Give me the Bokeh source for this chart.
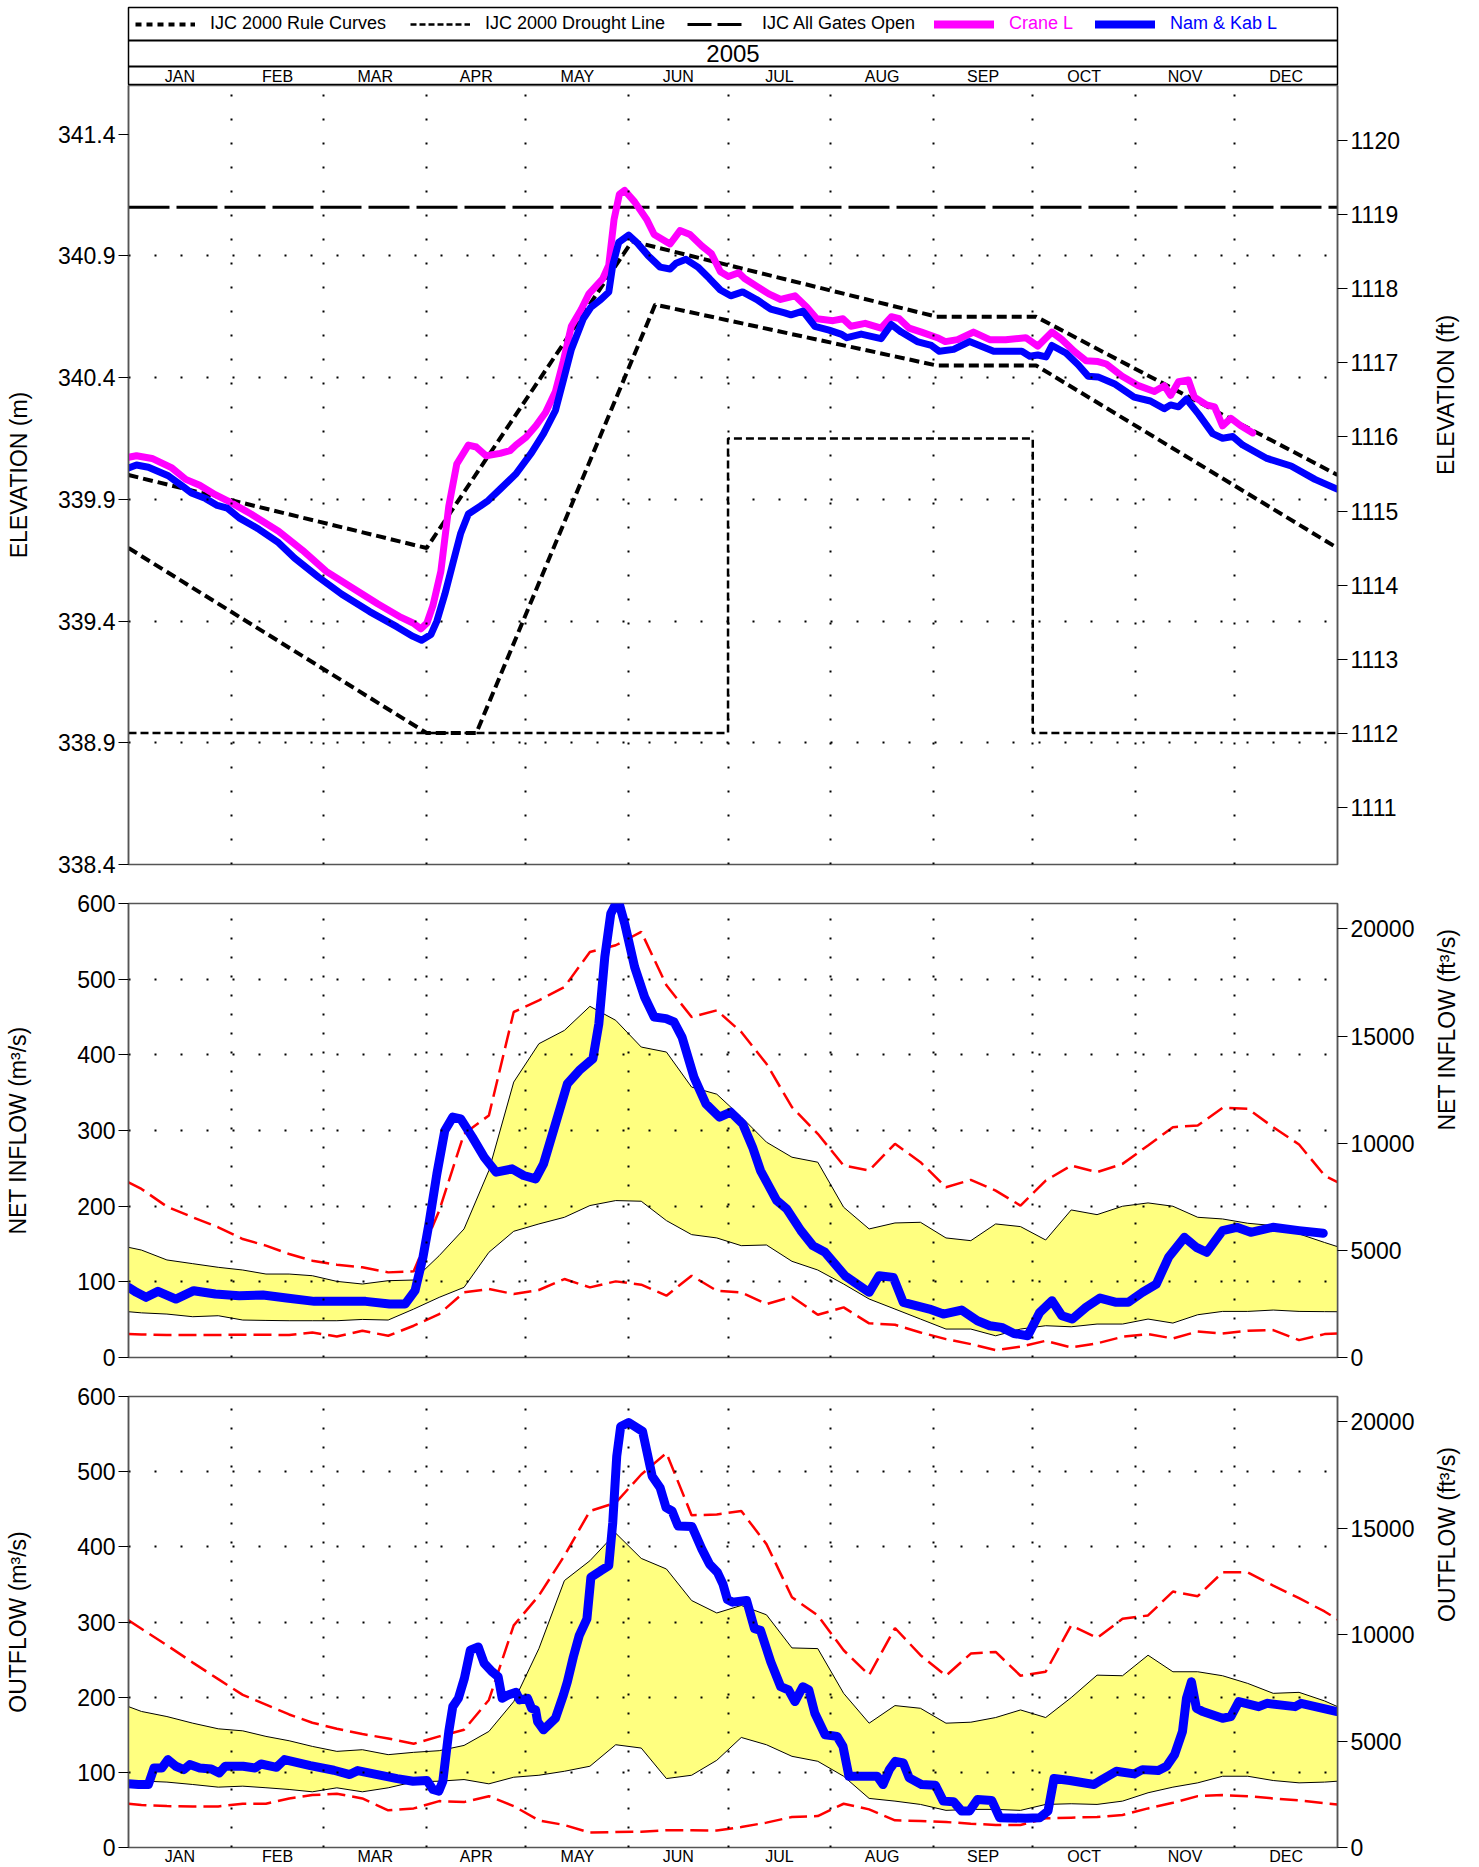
import math
from bokeh.plotting import figure
from bokeh.models import (Range1d, LinearAxis, FixedTicker, Legend, LegendItem, Span,
                          PrintfTickFormatter, BasicTickFormatter)
from bokeh.layouts import column
from bokeh.embed import file_html
from bokeh.resources import INLINE
from bokeh.core.properties import value

FONT = "Liberation Sans"
W = 1479
BL, BR = 128, 142

# ---------------- categories / axes ----------------
YEAR = "2005"
MONTHS = ["JAN", "FEB", "MAR", "APR", "MAY", "JUN", "JUL", "AUG", "SEP", "OCT", "NOV", "DEC"]
MONTH_START = [0, 31, 59, 90, 120, 151, 181, 212, 243, 273, 304, 334, 365]
MONTH_MID = [15.5, 45, 74.5, 105, 135.5, 166, 196.5, 227.5, 258, 288.5, 319, 349.5]

ELEV_TICKS_M = [338.4, 338.9, 339.4, 339.9, 340.4, 340.9, 341.4]
ELEV_GRID_M = [338.9, 339.4, 339.9, 340.4, 340.9]
ELEV_TICKS_FT = [1111, 1112, 1113, 1114, 1115, 1116, 1117, 1118, 1119, 1120]
FLOW_TICKS = [0, 100, 200, 300, 400, 500, 600]
FLOW_GRID = [100, 200, 300, 400, 500]
FLOW_TICKS_CFS = [0, 5000, 10000, 15000, 20000]

# ---------------- elevation: rule curves ----------------
GATES_DAY = [0, 365]
GATES_M = [341.10, 341.10]
RULE_UPPER_DAY = [0, 90, 152, 244, 274, 365]
RULE_UPPER_M = [340.00, 339.70, 340.96, 340.65, 340.65, 340.00]
RULE_LOWER_DAY = [0, 90, 105, 159, 244, 274, 365]
RULE_LOWER_M = [339.70, 338.94, 338.94, 340.70, 340.45, 340.45, 339.70]
DROUGHT_DAY = [0, 181, 181, 273, 273, 365]
DROUGHT_M = [338.94, 338.94, 340.15, 340.15, 338.94, 338.94]

# ---------------- elevation: observed levels ----------------
NK_DAY = [0, 2.4, 6, 12, 16.7, 19, 23.3, 26.8, 29.8, 33.4, 39.4, 45.3, 50.1, 57.3, 64.4, 72.8,
          81.1, 85.9, 88.5, 91.3, 93.1, 95.5, 97.9, 100.3, 102.6, 106.2, 108.6, 112.2, 117,
          121.7, 125.3, 128.9, 131.3, 133.7, 137.3, 139.6, 142.6, 145, 146.2, 148, 151, 153.4,
          156.9, 160.5, 163.5, 165.3, 168.3, 171.9, 175.4, 178.7, 181.8, 185.4, 189.6, 193.9,
          198.1, 200, 203.6, 207.2, 211.5, 215.1, 216.9, 221.2, 227.2, 230.3, 233.3, 238.1,
          242.4, 244.8, 249.1, 253.9, 261.2, 269.7, 272.1, 274.5, 277, 278.8, 283, 286.7,
          289.7, 292.7, 297.6, 303.6, 308.5, 312.7, 314.6, 317, 319.4, 323.1, 327.3, 330.3,
          333.4, 336.4, 343.7, 351, 358.2, 364.9]
NK_M = [340.029, 340.041, 340.032, 339.997, 339.950, 339.926, 339.903, 339.875, 339.864, 339.824,
        339.777, 339.722, 339.659, 339.581, 339.510, 339.439, 339.376, 339.337, 339.321, 339.345,
        339.400, 339.510, 339.636, 339.761, 339.840, 339.872, 339.895, 339.942, 340.005, 340.092,
        340.170, 340.265, 340.390, 340.516, 340.642, 340.689, 340.721, 340.752, 340.862, 340.956,
        340.985, 340.956, 340.901, 340.854, 340.846, 340.870, 340.886, 340.854, 340.807, 340.760,
        340.736, 340.752, 340.721, 340.681, 340.666, 340.658, 340.673, 340.611, 340.595, 340.579,
        340.564, 340.579, 340.560, 340.618, 340.587, 340.548, 340.532, 340.508, 340.516, 340.548,
        340.508, 340.508, 340.488, 340.493, 340.485, 340.532, 340.501, 340.453, 340.406, 340.403,
        340.375, 340.320, 340.304, 340.272, 340.288, 340.280, 340.312, 340.249, 340.170, 340.151,
        340.158, 340.123, 340.068, 340.037, 339.982, 339.942]

CRANE_DAY = [0, 2.4, 7.1, 13.1, 17.3, 21.5, 26.2, 29.8, 37, 45.3, 52.5, 59.7, 68, 75.2, 82.3, 85.9,
             88.3, 90.1, 91.9, 94.3, 96.7, 99.1, 102.6, 105, 108, 112.2, 115.2, 117, 120, 123,
             125.9, 128.9, 131.3, 133.7, 136.7, 139, 143.2, 145, 146.6, 148.2, 149.8, 152.8,
             156.4, 158.7, 163.5, 166.5, 169.5, 173.1, 176, 178.7, 181.1, 184.2, 186, 189.6,
             193.3, 196.9, 201.2, 204.8, 207.8, 212.7, 215.7, 218.1, 222.4, 227.2, 230.3, 232.7,
             235.7, 239.4, 244.2, 246.6, 250.3, 255.1, 260, 264.8, 270.9, 274.5, 278.8, 281.8,
             285.5, 289.1, 292.7, 295.2, 300, 304.9, 309.7, 312.7, 314.6, 317, 320, 321.8, 325.5,
             327.9, 330.3, 332.8, 335.8, 339.4]
CRANE_M = [340.073, 340.079, 340.068, 340.029, 339.982, 339.958, 339.919, 339.895, 339.840, 339.769,
           339.691, 339.604, 339.533, 339.471, 339.415, 339.392, 339.368, 339.392, 339.463, 339.604,
           339.872, 340.045, 340.123, 340.115, 340.079, 340.089, 340.100, 340.123, 340.155, 340.202,
           340.257, 340.343, 340.469, 340.611, 340.681, 340.744, 340.807, 340.862, 341.051, 341.153,
           341.169, 341.122, 341.051, 340.988, 340.949, 341.004, 340.988, 340.941, 340.909, 340.835,
           340.815, 340.831, 340.807, 340.776, 340.744, 340.721, 340.736, 340.689, 340.642, 340.634,
           340.642, 340.611, 340.623, 340.603, 340.650, 340.642, 340.603, 340.587, 340.564, 340.548,
           340.556, 340.587, 340.556, 340.556, 340.564, 340.529, 340.587, 340.556, 340.508, 340.469,
           340.466, 340.456, 340.406, 340.367, 340.343, 340.367, 340.327, 340.383, 340.390, 340.320,
           340.288, 340.280, 340.202, 340.233, 340.202, 340.173]

# ---------------- flow statistics (quarter-month) ----------------
BAND_DAY = [0, 3.9, 11.6, 19.4, 27.1, 34.5, 41.5, 48.5, 55.5, 62.9, 70.6, 78.4, 86.1, 93.8, 101.3,
            108.8, 116.3, 123.9, 131.6, 139.3, 147.1, 154.8, 162.4, 170.0, 177.6, 185.0, 192.6,
            200.3, 208.1, 215.9, 223.6, 231.4, 239.1, 246.8, 254.3, 261.8, 269.3, 276.9, 284.6,
            292.4, 300.1, 307.8, 315.3, 322.8, 330.3, 337.9, 345.6, 353.4, 361.1, 365]

IN_MAX = [231.6, 222.8, 199.4, 185.3, 172.1, 156.6, 147.8, 136.8, 128.0, 122.7, 119.2, 112.5, 113.9,
          194.1, 295.6, 319.9, 456.6, 472.0, 489.7, 536.0, 544.8, 562.5, 491.9, 450.0, 458.8, 430.1,
          388.2, 330.9, 295.6, 253.7, 247.1, 282.4, 258.1, 225.0, 234.7, 220.6, 200.8, 233.8, 253.7,
          244.9, 255.9, 280.2, 304.4, 306.6, 330.0, 328.7, 304.4, 281.5, 240.5, 231.6]
IN_MIN = [30.9, 30.5, 29.6, 29.6, 29.8, 30.1, 30.0, 29.6, 33.1, 27.8, 35.3, 28.7, 42.0, 57.4, 86.1,
          90.5, 83.9, 89.2, 103.7, 92.7, 100.6, 96.2, 81.7, 108.1, 88.3, 86.1, 70.6, 80.4, 56.5,
          66.2, 45.1, 43.3, 33.1, 24.3, 17.7, 9.8, 14.2, 22.1, 13.3, 18.6, 27.4, 30.9, 25.2, 34.4,
          31.8, 35.3, 36.2, 23.0, 30.9, 31.8]
IN_HI = [145.6, 142.0, 128.9, 124.0, 119.2, 115.6, 110.3, 110.3, 108.1, 100.6, 97.1, 101.5, 102.4,
         134.6, 169.9, 247.1, 364.0, 414.7, 432.3, 464.1, 445.6, 410.3, 403.7, 357.4, 348.0, 318.0,
         284.6, 264.7, 258.1, 198.6, 169.9, 177.8, 178.7, 158.0, 154.4, 176.5, 173.0, 155.3, 195.0,
         188.8, 199.9, 204.3, 199.9, 185.3, 183.1, 177.4, 174.3, 163.3, 152.0, 146.5]
IN_LO = [60.5, 59.0, 57.4, 53.9, 55.2, 49.5, 49.0, 48.6, 48.6, 48.6, 50.3, 49.5, 64.0, 79.5, 92.7,
         139.0, 166.8, 176.5, 185.3, 200.8, 207.4, 206.5, 180.9, 162.4, 158.0, 147.8, 148.7, 127.1,
         115.6, 97.1, 77.3, 64.0, 50.8, 37.6, 37.6, 28.7, 37.6, 42.0, 40.6, 44.2, 44.2, 50.8, 45.5,
         56.5, 60.9, 60.9, 62.7, 60.9, 60.6, 60.5]

OUT_MAX = [302.1, 291.0, 269.0, 246.0, 224.0, 203.0, 190.0, 177.0, 166.0, 158.0, 151.0, 145.0, 138.0,
           147.8, 156.6, 196.3, 295.5, 335.2, 388.1, 447.7, 458.7, 496.2, 524.9, 442.0, 443.0, 447.7,
           403.6, 333.0, 308.7, 262.4, 229.3, 292.0, 255.8, 228.5, 258.0, 260.2, 228.5, 233.8, 295.5,
           278.8, 304.3, 308.7, 340.5, 334.3, 366.1, 366.1, 348.5, 331.7, 314.0, 303.5]
OUT_MIN = [58.2, 56.5, 55.1, 54.7, 54.7, 58.2, 58.2, 65.3, 69.7, 71.4, 65.3, 49.4, 52.0, 61.7, 60.4,
           68.3, 55.1, 36.1, 29.9, 19.8, 20.7, 21.1, 22.9, 22.9, 22.5, 27.3, 33.1, 40.6, 41.9, 58.2,
           50.7, 36.1, 35.3, 33.9, 31.7, 30.0, 30.0, 38.8, 39.7, 40.6, 43.2, 52.0, 59.5, 68.3, 69.7,
           68.3, 65.3, 62.6, 59.0, 57.3]
OUT_HI = [187.4, 181.0, 174.2, 165.4, 157.9, 155.2, 147.8, 142.0, 134.5, 127.9, 130.1, 123.5, 126.6,
          128.8, 135.8, 154.4, 194.1, 264.6, 355.1, 381.5, 418.1, 384.6, 370.5, 328.6, 312.0, 322.0,
          309.6, 265.5, 264.6, 205.1, 165.4, 188.8, 185.2, 165.4, 166.7, 172.9, 183.0, 172.9, 199.4,
          229.3, 228.5, 255.8, 233.8, 233.8, 228.5, 218.3, 205.1, 206.4, 195.0, 187.4]
OUT_LO = [89.1, 88.5, 87.0, 83.8, 80.3, 81.6, 79.5, 77.2, 74.1, 79.4, 74.1, 79.4, 87.3, 88.2, 90.4,
          84.7, 93.5, 96.1, 101.4, 108.1, 136.7, 132.3, 91.7, 96.1, 116.0, 146.4, 136.7, 121.3, 114.7,
          94.8, 65.3, 61.7, 57.3, 49.4, 50.7, 50.7, 49.4, 57.3, 58.2, 57.3, 61.7, 72.8, 80.3, 86.0,
          94.8, 94.8, 89.1, 86.0, 87.0, 88.2]

# ---------------- observed flows (Namakan & Kabetogama) ----------------
NK_IN_DAY = [0, 2.4, 5.3, 8.9, 14.3, 19.7, 26.2, 33.4, 40.6, 47.7, 56.1, 64.4, 71.6, 78.8, 83.5, 86.5,
             88.9, 90.7, 93.1, 95.5, 97.9, 100.3, 103.8, 107.4, 111, 115.8, 119.3, 122.9, 125.3,
             128.9, 132.5, 136.1, 140.2, 142, 143.8, 145.6, 147.8, 149.8, 152.8, 155.8, 158.7,
             162.3, 164.7, 167.1, 170.7, 174.3, 178.4, 181.8, 185.4, 188.4, 190.8, 195.7, 198.7,
             203, 206.6, 210.3, 216.3, 223.6, 226.6, 230.9, 233.9, 241.8, 246, 251.5, 256.3, 260,
             263.6, 267.3, 271.5, 275.1, 278.8, 281.8, 284.9, 289.1, 293.3, 298.2, 301.8, 306.1,
             310.3, 314, 318.8, 322.4, 325.5, 330.3, 334.6, 338.8, 345.5, 353.4, 360.7]
NK_IN = [92.7, 86.1, 79.5, 87.4, 77.2, 88.3, 83.9, 81.7, 82.5, 78.6, 74.2, 74.2, 74.2, 70.6, 70.6, 88.3,
         132.4, 176.5, 242.7, 300.0, 317.7, 315.4, 291.2, 264.7, 244.9, 249.3, 240.5, 236.0, 255.9,
         308.8, 361.8, 379.4, 394.8, 441.2, 529.4, 586.7, 605.2, 573.5, 516.1, 476.4, 450.0, 447.8,
         443.4, 423.5, 370.6, 335.3, 317.7, 324.3, 308.8, 278.0, 247.1, 207.4, 196.4, 167.7, 147.8,
         139.0, 108.1, 86.1, 108.1, 105.9, 72.8, 64.0, 57.4, 62.7, 48.6, 42.0, 39.8, 31.8, 28.7, 59.6,
         75.1, 55.2, 50.8, 66.4, 78.6, 72.9, 72.9, 86.1, 97.1, 132.4, 158.8, 145.6, 139.0, 167.7,
         172.1, 165.5, 172.1, 167.7, 164.2]

NK_OUT_DAY = [0, 3.0, 6.0, 7.7, 10.1, 11.9, 14.3, 16.7, 18.5, 21.5, 25.0, 27.4, 29.2, 34.6, 38.2, 40.0,
              44.7, 47.1, 54.9, 62.0, 66.8, 69.2, 74.0, 81.1, 85.9, 90.1, 91.9, 93.7, 94.9, 96.7,
              97.9, 99.6, 101.4, 103.2, 105.6, 107.4, 109.8, 111.6, 112.8, 114.6, 117.0, 118.1,
              120.5, 121.7, 122.9, 123.5, 125.3, 128.9, 131.3, 132.5, 134.3, 136.1, 138.4, 139.6,
              142.6, 145.0, 146.2, 147.4, 148.6, 151.0, 155.2, 158.1, 160.5, 162.3, 164.1, 165.9,
              170.1, 173.1, 175.4, 177.8, 179.5, 180.8, 182.4, 186.6, 189.0, 190.8, 193.9, 196.9,
              199.3, 201.2, 203.6, 205.4, 207.2, 210.3, 213.9, 215.7, 217.5, 226.0, 227.8, 229.7,
              231.5, 233.9, 235.7, 239.4, 243.6, 246.0, 249.1, 251.5, 253.9, 256.3, 260.6, 263.0,
              270.9, 275.1, 277.6, 279.4, 284.2, 291.5, 293.9, 298.2, 303.6, 306.1, 310.9, 313.4,
              315.8, 318.2, 319.4, 320.9, 322.4, 324.3, 330.3, 332.8, 335.2, 341.2, 343.7, 352.2,
              354.0, 364.9]
NK_OUT = [84.7, 83.8, 83.8, 105.8, 105.8, 116.9, 108.1, 103.6, 110.3, 105.8, 104.5, 99.2, 108.1, 108.1,
          105.8, 111.1, 106.7, 116.9, 109.0, 102.8, 97.0, 102.3, 97.9, 91.7, 88.2, 89.1, 77.2, 75.0,
          88.2, 154.4, 187.4, 198.5, 225.0, 262.4, 266.8, 244.8, 233.8, 227.1, 198.5, 202.9, 206.4,
          196.3, 198.5, 185.2, 183.0, 167.6, 156.6, 172.0, 202.9, 220.5, 253.6, 282.3, 304.3, 359.5,
          368.3, 374.9, 432.3, 520.5, 560.2, 565.5, 553.6, 494.0, 478.6, 452.1, 447.7, 427.8, 427.0,
          397.0, 377.1, 366.1, 350.0, 330.0, 326.4, 328.6, 291.1, 288.9, 247.0, 213.9, 209.5, 194.1,
          213.9, 209.5, 178.6, 150.0, 147.8, 134.5, 94.8, 94.8, 83.8, 103.6, 114.7, 112.5, 92.6, 83.8,
          82.9, 61.7, 60.9, 48.5, 48.5, 63.9, 62.6, 39.7, 38.8, 39.7, 48.5, 91.7, 89.1, 83.8, 90.4,
          101.4, 97.9, 103.6, 102.3, 108.1, 123.5, 154.4, 198.5, 220.5, 185.2, 180.8, 172.0, 174.2,
          194.1, 187.4, 191.8, 187.4, 191.8, 180.8]

M_PER_FT = 0.3048
CFS_PER_CMS = 35.3147

BLUE = "#0000FF"
MAGENTA = "#FF00FF"
RED = "#FF0000"
BAND = "#FFFF80"
FRAME = "#555555"
NAN = float("nan")


def style_axis(ax, label_size="23px"):
    ax.major_tick_out = 10
    ax.major_tick_in = 0
    ax.minor_tick_out = 0
    ax.minor_tick_in = 0
    ax.major_tick_line_color = "black"
    ax.major_tick_line_width = 1
    ax.axis_line_color = FRAME
    ax.axis_line_width = 1.5
    ax.major_label_standoff = 3
    ax.major_label_text_font = FONT
    ax.major_label_text_font_size = label_size
    ax.major_label_text_color = "black"
    ax.axis_label_text_font = FONT
    ax.axis_label_text_font_size = "23px"
    ax.axis_label_text_font_style = "normal"
    ax.axis_label_text_color = "black"


def base_fig(height, yr, top, bottom):
    p = figure(width=W, height=height, x_range=Range1d(0, 365), y_range=yr,
               output_backend="svg", toolbar_location=None,
               min_border_left=BL, min_border_right=BR, min_border_top=top,
               min_border_bottom=bottom, x_axis_location=None)
    p.outline_line_color = FRAME
    p.outline_line_width = 1.5
    p.background_fill_color = "white"
    p.border_fill_color = "white"
    p.xgrid.ticker = FixedTicker(ticks=MONTH_START[1:-1])
    p.xgrid.grid_line_color = "black"
    p.xgrid.grid_line_width = 2
    p.ygrid.grid_line_color = "black"
    p.ygrid.grid_line_width = 2
    p.ygrid.grid_line_dash = "2 24"
    p.xgrid.level = "glyph"
    p.ygrid.level = "glyph"
    return p


# ---------------- header ----------------
hdr = figure(width=W, height=85, x_range=Range1d(0, 365), y_range=Range1d(0, 78),
             output_backend="svg", toolbar_location=None, min_border_left=BL,
             min_border_right=BR, min_border_top=7, min_border_bottom=0,
             x_axis_location=None, y_axis_location=None)
hdr.grid.visible = False
hdr.outline_line_color = "black"
hdr.outline_line_width = 1.5
hdr.add_layout(Span(location=45, dimension="width", line_color="black", line_width=2))
hdr.add_layout(Span(location=19, dimension="width", line_color="black", line_width=2))
hdr.text(x=[MONTH_START[-1] / 2], y=[32], text=[YEAR], text_align="center",
         text_baseline="middle", text_font=value(FONT), text_font_size="24px", text_color="black")
hdr.text(x=MONTH_MID, y=[9.5] * len(MONTHS), text=MONTHS, text_align="center",
         text_baseline="middle", text_font=value(FONT), text_font_size="16px", text_color="black")

# legend proxies (no visible data)
r_rule = hdr.line(x=[NAN, NAN], y=[NAN, NAN], line_color="black", line_width=4, line_dash="6 5")
r_drought = hdr.line(x=[NAN, NAN], y=[NAN, NAN], line_color="black", line_width=2.5, line_dash="6 3")
r_gates = hdr.line(x=[NAN, NAN], y=[NAN, NAN], line_color="black", line_width=3, line_dash="24 6")
r_crane = hdr.line(x=[NAN, NAN], y=[NAN, NAN], line_color=MAGENTA, line_width=8, line_cap="round")
r_nk = hdr.line(x=[NAN, NAN], y=[NAN, NAN], line_color=BLUE, line_width=8, line_cap="round")

legend_specs = [("IJC 2000 Rule Curves", r_rule, "black", 7),
                ("IJC 2000 Drought Line", r_drought, "black", 282),
                ("IJC All Gates Open", r_gates, "black", 559),
                ("Crane L", r_crane, MAGENTA, 806),
                ("Nam & Kab L", r_nk, BLUE, 967)]
for lab, rend, col, xpos in legend_specs:
    lg = Legend(items=[LegendItem(label=lab, renderers=[rend])], location=(xpos, 51),
                glyph_width=60, glyph_height=20, label_height=20, label_standoff=15,
                padding=0, margin=0, spacing=0, border_line_color=None,
                background_fill_alpha=0, label_text_font=FONT, label_text_font_size="18px",
                label_text_color=col)
    hdr.add_layout(lg)

# ---------------- elevation plot ----------------
p1 = base_fig(798, Range1d(338.4, 341.6), 0, 19)
p1.xgrid.grid_line_dash = "2 22"
p1.ygrid.ticker = FixedTicker(ticks=ELEV_GRID_M)
style_axis(p1.yaxis[0])
p1.yaxis.ticker = FixedTicker(ticks=ELEV_TICKS_M)
p1.yaxis.formatter = PrintfTickFormatter(format="%.1f")
p1.yaxis.axis_label = "ELEVATION (m)"
p1.yaxis.axis_label_standoff = 23
p1.extra_y_ranges = {"ft": Range1d(338.4 / M_PER_FT, 341.6 / M_PER_FT)}
ax_ft = LinearAxis(y_range_name="ft", ticker=FixedTicker(ticks=ELEV_TICKS_FT),
                   axis_label="ELEVATION (ft)")
style_axis(ax_ft)
ax_ft.axis_label_standoff = 43
ax_ft.axis_label_orientation = math.pi / 2
p1.add_layout(ax_ft, "right")

p1.line(GATES_DAY, GATES_M, line_color="black", line_width=3, line_dash="41 7")
p1.line(DROUGHT_DAY, DROUGHT_M, line_color="black", line_width=2.5, line_dash="8 4")
p1.line(RULE_UPPER_DAY, RULE_UPPER_M, line_color="black", line_width=4, line_dash="10 5")
p1.line(RULE_LOWER_DAY, RULE_LOWER_M, line_color="black", line_width=4, line_dash="10 5")
p1.line(CRANE_DAY, CRANE_M, line_color=MAGENTA, line_width=7, line_join="round", line_cap="round")
p1.line(NK_DAY, NK_M, line_color=BLUE, line_width=7, line_join="round", line_cap="round")


# ---------------- flow plots ----------------
def flow_fig(height, top, bottom, label_m, label_ft, qmax, qmin, qhi, qlo, obs_day, obs):
    p = base_fig(height, Range1d(0, 600), top, bottom)
    p.xgrid.grid_line_dash = "2 17"
    p.ygrid.ticker = FixedTicker(ticks=FLOW_GRID)
    style_axis(p.yaxis[0])
    p.yaxis.ticker = FixedTicker(ticks=FLOW_TICKS)
    p.yaxis.axis_label = label_m
    p.yaxis.axis_label_standoff = 43
    p.extra_y_ranges = {"cfs": Range1d(0, 600 * CFS_PER_CMS)}
    ax = LinearAxis(y_range_name="cfs", ticker=FixedTicker(ticks=FLOW_TICKS_CFS),
                    formatter=BasicTickFormatter(use_scientific=False), axis_label=label_ft)
    style_axis(ax)
    ax.axis_label_standoff = 30
    ax.axis_label_orientation = math.pi / 2
    p.add_layout(ax, "right")
    p.varea(x=BAND_DAY, y1=qlo, y2=qhi, fill_color=BAND, level="underlay")
    p.line(BAND_DAY, qhi, line_color="black", line_width=1)
    p.line(BAND_DAY, qlo, line_color="black", line_width=1)
    p.line(BAND_DAY, qmax, line_color=RED, line_width=2.5, line_dash="18 7")
    p.line(BAND_DAY, qmin, line_color=RED, line_width=2.5, line_dash="18 7")
    p.line(obs_day, obs, line_color=BLUE, line_width=9, line_join="round", line_cap="round")
    return p


p2 = flow_fig(493, 20, 19, "NET INFLOW (m³/s)", "NET INFLOW (ft³/s)",
              IN_MAX, IN_MIN, IN_HI, IN_LO, NK_IN_DAY, NK_IN)
p3 = flow_fig(491, 20, 17, "OUTFLOW (m³/s)", "OUTFLOW (ft³/s)",
              OUT_MAX, OUT_MIN, OUT_HI, OUT_LO, NK_OUT_DAY, NK_OUT)
bx = LinearAxis(ticker=FixedTicker(ticks=MONTH_MID),
                major_label_overrides={m: t for m, t in zip(MONTH_MID, MONTHS)})
style_axis(bx, "16px")
bx.major_tick_out = 0
bx.axis_line_color = None
bx.major_label_standoff = 0
p3.add_layout(bx, "below")

layout = column(hdr, p1, p2, p3, spacing=0)
open("out.html", "w").write(file_html(layout, INLINE))
